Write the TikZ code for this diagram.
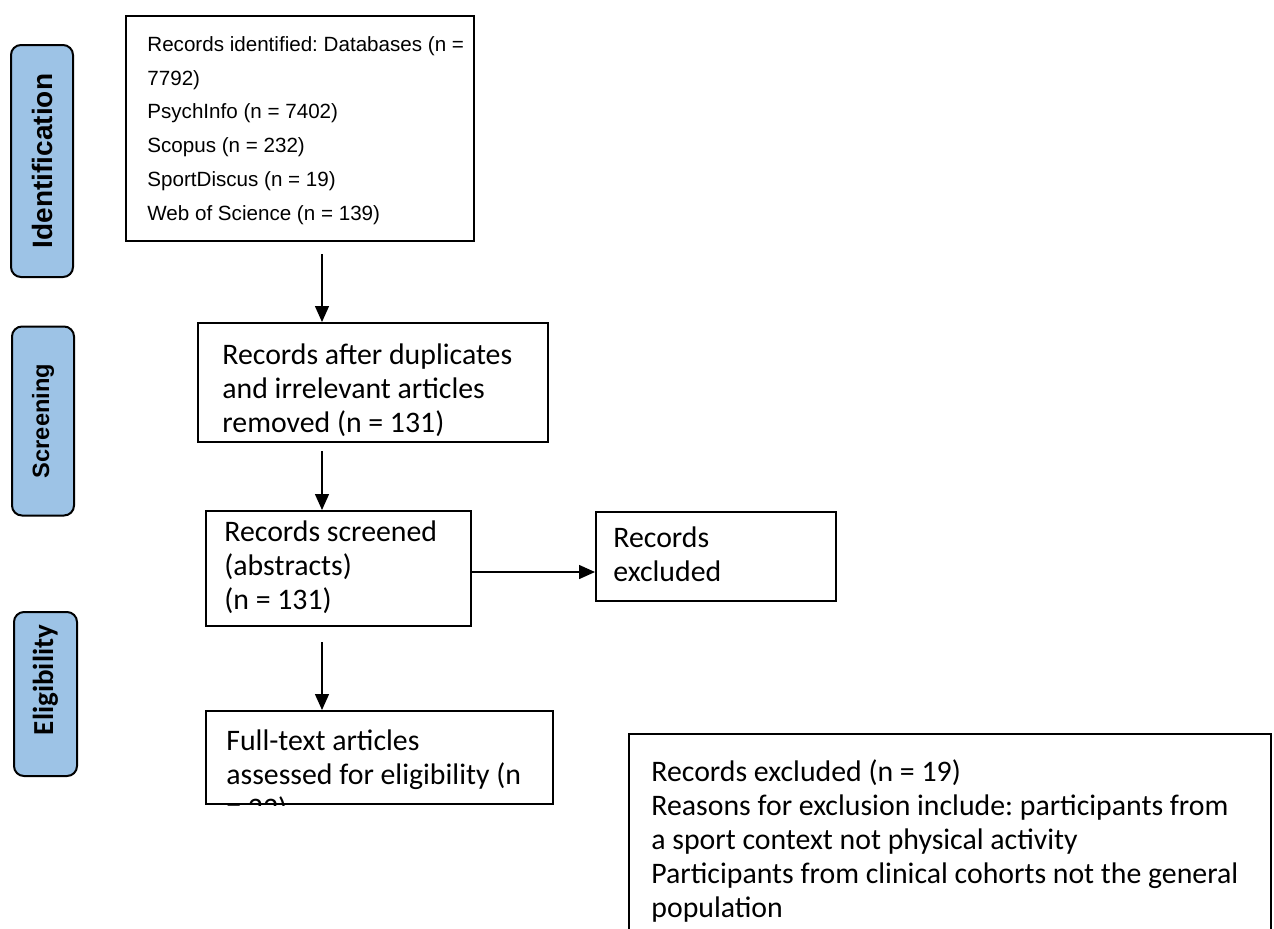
\documentclass[tikz,border=0pt]{standalone}
\usepackage{fontspec}
\setmainfont{Liberation Sans}
\newfontfamily\aptos{Carlito}
\usetikzlibrary{arrows.meta}
\definecolor{phaseblue}{RGB}{157,195,230}
\frenchspacing

\tikzset{
  phase/.style={draw, line width=1pt, fill=phaseblue, rounded corners=5pt, rotate=90, inner sep=0pt},
  box/.style={draw, line width=1pt, anchor=north west, inner sep=0pt},
  txt/.style={anchor=north west, align=left, inner sep=0pt, font=\aptos\fontsize{14.9}{17}\selectfont},
  arr/.style={-{Triangle[length=8pt,width=7pt]}, line width=0.7pt}
}

\begin{document}
\begin{tikzpicture}[x=0.5pt,y=-0.5pt]
\clip (0,0) rectangle (1274,928);
\fill[white] (0,0) rectangle (1274,928);

% phases
\node[phase, minimum width=116pt, minimum height=31pt, font=\bfseries\fontsize{14}{16}\selectfont] (ident) at (42,161) {Identification};
\node[phase, minimum width=94.5pt, minimum height=31pt, font=\bfseries\fontsize{11.8}{13}\selectfont] (screen) at (43,421) {Screening};
\node[phase, minimum width=82pt, minimum height=31.5pt, font=\aptos\bfseries\fontsize{14.5}{16}\selectfont] (elig) at (45.5,694) {\hspace*{14pt}Eligibility};

% boxes
\node[box, minimum width=174pt, minimum height=112.5pt] (recid) at (125,15) {};
\node[txt, font=\fontsize{10.3}{16.9}\selectfont] (recid-t) at (147,36) {Records identified: Databases (n =\\7792)\\PsychInfo (n = 7402)\\Scopus (n = 232)\\SportDiscus (n = 19)\\Web of Science (n = 139)};

\node[box, minimum width=175pt, minimum height=59.5pt] (dup) at (197,322) {};
\node[txt] (dup-t) at (222,343) {Records after duplicates\\and irrelevant articles\\removed (n = 131)};

\node[box, minimum width=132.5pt, minimum height=57.5pt] (scr) at (205,510) {};
\node[txt] (scr-t) at (224,520) {Records screened\\(abstracts)\\(n = 131)};

\node[box, minimum width=120pt, minimum height=44.5pt] (excl) at (595,511) {};
\node[txt] (excl-t) at (613,526) {Records\\excluded};

\node[box, minimum width=173.5pt, minimum height=46.5pt] (full) at (205,710) {};
\begin{scope}
  \clip (full.south west) rectangle (full.north east);
  \node[txt] (full-t) at (226,729) {Full-text articles\\assessed for eligibility (n\\= 22)};
\end{scope}

\node[box, minimum width=321pt, minimum height=110pt] (reasons) at (628,733) {};
\node[txt] (reasons-t) at (651,759) {Records excluded (n = 19)\\Reasons for exclusion include: participants from\\a sport context not physical activity\\Participants from clinical cohorts not the general\\population};

% arrows
\coordinate (a1) at (322,254);
\coordinate (a2) at (322,451);
\coordinate (a3) at (322,642);
\coordinate (a4) at (470,572);
\draw[arr] (a1) -- (a1 |- dup.north);
\draw[arr] (a2) -- (a2 |- scr.north);
\draw[arr] (a3) -- (a3 |- full.north);
\draw[arr] (a4) -- (a4 -| excl.west);

\end{tikzpicture}
\end{document}
